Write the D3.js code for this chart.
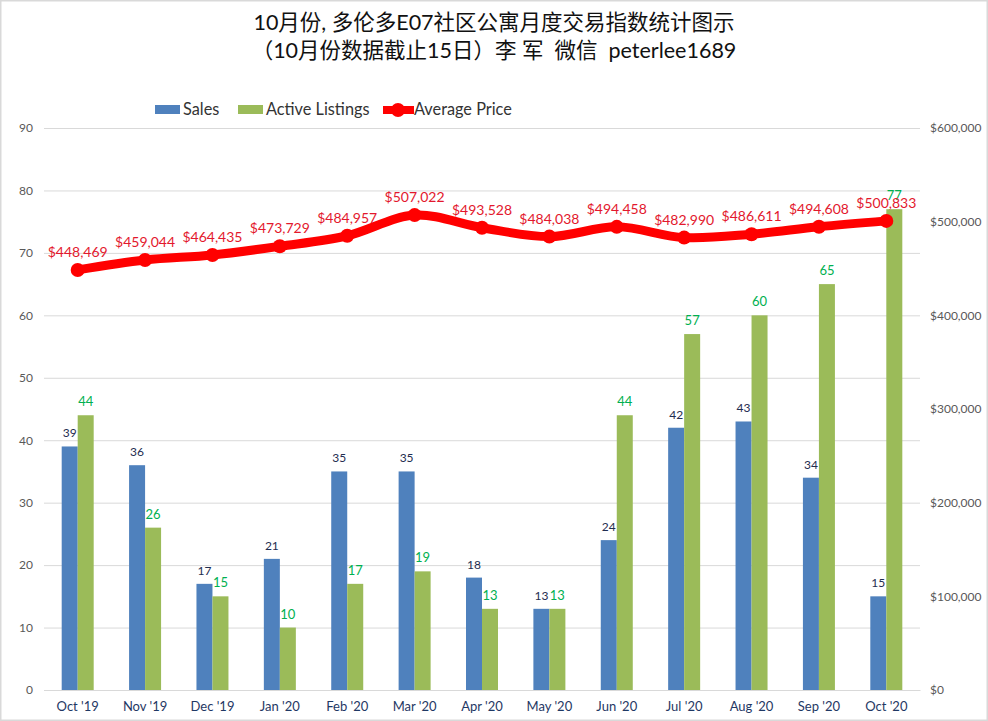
<!DOCTYPE html>
<html lang="zh">

<head>
  <meta charset="UTF-8" />
  <title>E07 monthly chart</title>
  <script src="https://d3js.org/d3.v7.min.js"></script>
  <style>
    html, body { margin: 0; padding: 0; background: #fff; }
    svg { display: block; }
    text { font-family: Lato, "Noto Sans", sans-serif; }
    .title { font-family: Lato, "Noto Sans CJK SC", sans-serif; font-size: 21.5px; fill: #111; }
  </style>
</head>

<body>
  <svg id="chart" width="988" height="721"></svg>

  <script>
    const months = ["Oct '19", "Nov '19", "Dec '19", "Jan '20", "Feb '20", "Mar '20", "Apr '20", "May '20", "Jun '20", "Jul '20", "Aug '20", "Sep '20", "Oct '20"];
    const sales = [39, 36, 17, 21, 35, 35, 18, 13, 24, 42, 43, 34, 15];
    const listings = [44, 26, 15, 10, 17, 19, 13, 13, 44, 57, 60, 65, 77];
    const prices = [448469, 459044, 464435, 473729, 484957, 507022, 493528, 484038, 494458, 482990, 486611, 494608, 500833];
    const leftTicks = [0, 10, 20, 30, 40, 50, 60, 70, 80, 90];
    const rightTicks = [0, 100000, 200000, 300000, 400000, 500000, 600000];
    const titleLines = ["10月份, 多伦多E07社区公寓月度交易指数统计图示", "（10月份数据截止15日）李 军  微信  peterlee1689"];

    const svg = d3.select("#chart");
    const plotLeft = 44, plotRight = 920, plotTop = 128, plotBottom = 690;
    const barW = 16;

    const x = d3.scaleBand().domain(months).range([plotLeft, plotRight]);
    const yCount = d3.scaleLinear().domain([0, 90]).range([plotBottom, plotTop]);
    const yPrice = d3.scaleLinear().domain([0, 600000]).range([plotBottom, plotTop]);
    const cx = m => x(m) + x.bandwidth() / 2;

    // image frame
    svg.append("rect").attr("x", 0.5).attr("y", 0.5).attr("width", 987).attr("height", 720)
      .attr("fill", "#fff").attr("stroke", "#d9d9d9").attr("stroke-width", 2);

    svg.selectAll(".title").data(titleLines).join("text")
      .attr("class", "title")
      .attr("x", 494)
      .attr("y", (d, i) => 30 + i * 28)
      .attr("text-anchor", "middle")
      .attr("xml:space", "preserve")
      .style("white-space", "pre")
      .text(d => d);

    // gridlines + left axis
    const gridAxis = d3.axisLeft(yCount).tickValues(leftTicks).tickSize(-(plotRight - plotLeft)).tickPadding(11);
    const gLeft = svg.append("g").attr("transform", `translate(${plotLeft},0)`).call(gridAxis);
    gLeft.select(".domain").remove();
    gLeft.selectAll("line").attr("stroke", "#d9d9d9");
    gLeft.selectAll("text").attr("fill", "#595959").attr("font-size", 12);

    const gRight = svg.append("g").attr("transform", `translate(${plotRight},0)`)
      .call(d3.axisRight(yPrice).tickValues(rightTicks).tickSize(0).tickPadding(10).tickFormat(d => "$" + d3.format(",")(d)));
    gRight.select(".domain").remove();
    gRight.selectAll("text").attr("fill", "#595959").attr("font-size", 12);

    const gBottom = svg.append("g").attr("transform", `translate(0,${plotBottom})`)
      .call(d3.axisBottom(x).tickSize(0).tickPadding(12));
    gBottom.select(".domain").attr("stroke", "#d9d9d9");
    gBottom.selectAll("text").attr("fill", "#1f3864").attr("font-size", 13);

    // bars
    svg.append("g").selectAll("rect").data(months).join("rect")
      .attr("x", m => cx(m) - barW)
      .attr("y", (m, i) => yCount(sales[i]))
      .attr("width", barW)
      .attr("height", (m, i) => plotBottom - yCount(sales[i]))
      .attr("fill", "#4f81bd");

    svg.append("g").selectAll("rect").data(months).join("rect")
      .attr("x", m => cx(m))
      .attr("y", (m, i) => yCount(listings[i]))
      .attr("width", barW)
      .attr("height", (m, i) => plotBottom - yCount(listings[i]))
      .attr("fill", "#9bbb59");

    svg.append("g").selectAll("text").data(months).join("text")
      .attr("x", m => cx(m) - barW / 2)
      .attr("y", (m, i) => yCount(sales[i]) - 9)
      .attr("text-anchor", "middle").attr("font-size", 12).attr("fill", "#1f2d50")
      .text((m, i) => sales[i]);

    svg.append("g").selectAll("text").data(months).join("text")
      .attr("x", m => cx(m) + barW / 2)
      .attr("y", (m, i) => yCount(listings[i]) - 9)
      .attr("text-anchor", "middle").attr("font-size", 13).attr("fill", "#00b050")
      .text((m, i) => listings[i]);

    // price line
    const line = d3.line().x(d => cx(d.m)).y(d => yPrice(d.p)).curve(d3.curveCatmullRom);
    const pts = months.map((m, i) => ({ m, p: prices[i] }));
    svg.append("path").attr("d", line(pts)).attr("fill", "none").attr("stroke", "#ff0000").attr("stroke-width", 9);
    svg.append("g").selectAll("circle").data(pts).join("circle")
      .attr("cx", d => cx(d.m)).attr("cy", d => yPrice(d.p)).attr("r", 7).attr("fill", "#ff0000");

    svg.append("g").selectAll("text").data(pts).join("text")
      .attr("x", d => cx(d.m))
      .attr("y", d => yPrice(d.p) - 13)
      .attr("text-anchor", "middle").attr("font-size", 14).attr("fill", "#e3182d")
      .text(d => "$" + d3.format(",")(d.p));

    // legend
    const legend = svg.append("g").attr("font-size", 16.3).attr("fill", "#333");
    legend.append("rect").attr("x", 155).attr("y", 105).attr("width", 25).attr("height", 9).attr("fill", "#4f81bd");
    legend.append("text").attr("x", 183).attr("y", 115).text("Sales");
    legend.append("rect").attr("x", 238).attr("y", 105).attr("width", 25).attr("height", 9).attr("fill", "#9bbb59");
    legend.append("text").attr("x", 266).attr("y", 115).text("Active Listings");
    legend.append("line").attr("x1", 383).attr("x2", 414).attr("y1", 110).attr("y2", 110).attr("stroke", "#ff0000").attr("stroke-width", 8);
    legend.append("circle").attr("cx", 398).attr("cy", 110).attr("r", 7).attr("fill", "#ff0000");
    legend.append("text").attr("x", 414).attr("y", 115).text("Average Price");
  </script>
</body>

</html>
